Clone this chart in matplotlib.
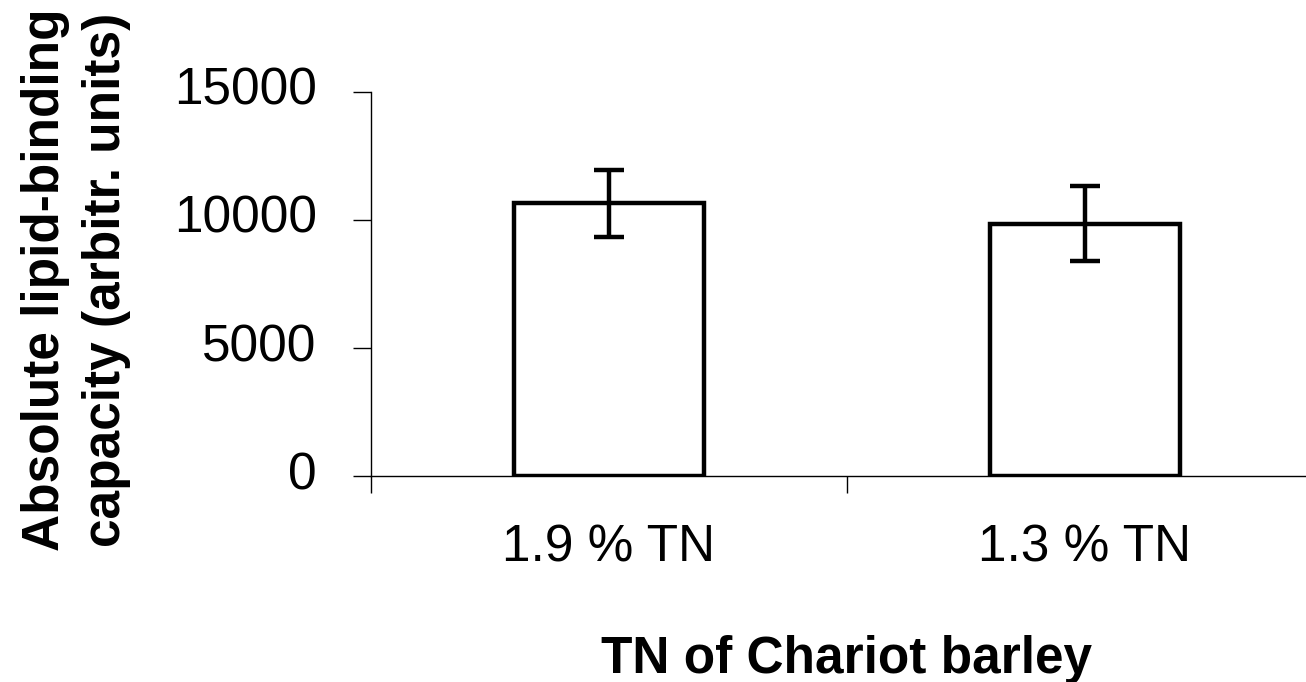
import matplotlib.pyplot as plt
import matplotlib.transforms as mtransforms

plt.rcParams['font.family'] = ['Liberation Sans', 'DejaVu Sans']

# Lipid-binding capacity by grain nitrogen content
categories = ['1.9 % TN', '1.3 % TN']
capacity = [10650, 9850]
capacity_err = [1300, 1470]

fig = plt.figure(figsize=(13.06, 6.82), dpi=100)
ax = fig.add_axes([371 / 1306, 206 / 682, 952 / 1306, 384 / 682])

x = list(range(len(categories)))
ax.bar(x, capacity, width=0.40, color='white', edgecolor='black',
       linewidth=3.2, zorder=2)
ax.errorbar(x, capacity, yerr=capacity_err, fmt='none', ecolor='black',
            elinewidth=3.2, capsize=11, capthick=3.2, zorder=3)

ax.set_xlim(-0.5, len(categories) - 0.5)
ax.set_ylim(0, 15000)
ax.set_yticks([0, 5000, 10000, 15000])
ax.set_yticklabels(['0', '5000', '10000', '15000'])

# tick marks sit between the groups, labels sit under the bars
ax.set_xticks([-0.5, 0.5, 1.5])
ax.set_xticklabels([])
ax.set_xticks(x, minor=True)
ax.set_xticklabels(categories, minor=True)

ax.tick_params(axis='y', direction='out', length=13, width=1,
               labelsize=37, pad=26)
ax.tick_params(axis='x', which='major', direction='out', length=12, width=1)
ax.tick_params(axis='x', which='minor', length=0, labelsize=37, pad=34)

# nudge the y tick labels up a little
shift = mtransforms.ScaledTranslation(0, 6 / 100, fig.dpi_scale_trans)
for lbl in ax.get_yticklabels():
    lbl.set_transform(lbl.get_transform() + shift)

for side in ['top', 'right']:
    ax.spines[side].set_visible(False)
for side in ['left', 'bottom']:
    ax.spines[side].set_linewidth(1)

fig.text(76 / 1306, 1 - 280 / 682,
         'Absolute lipid-binding\ncapacity (arbitr. units)',
         rotation=90, ha='center', va='center', multialignment='center',
         fontsize=37, fontweight='bold', linespacing=1.3)
fig.text(847 / 1306, 1 - 673 / 682, 'TN of Chariot barley',
         ha='center', va='baseline', fontsize=37, fontweight='bold')

fig.savefig('out.png', dpi=100)
